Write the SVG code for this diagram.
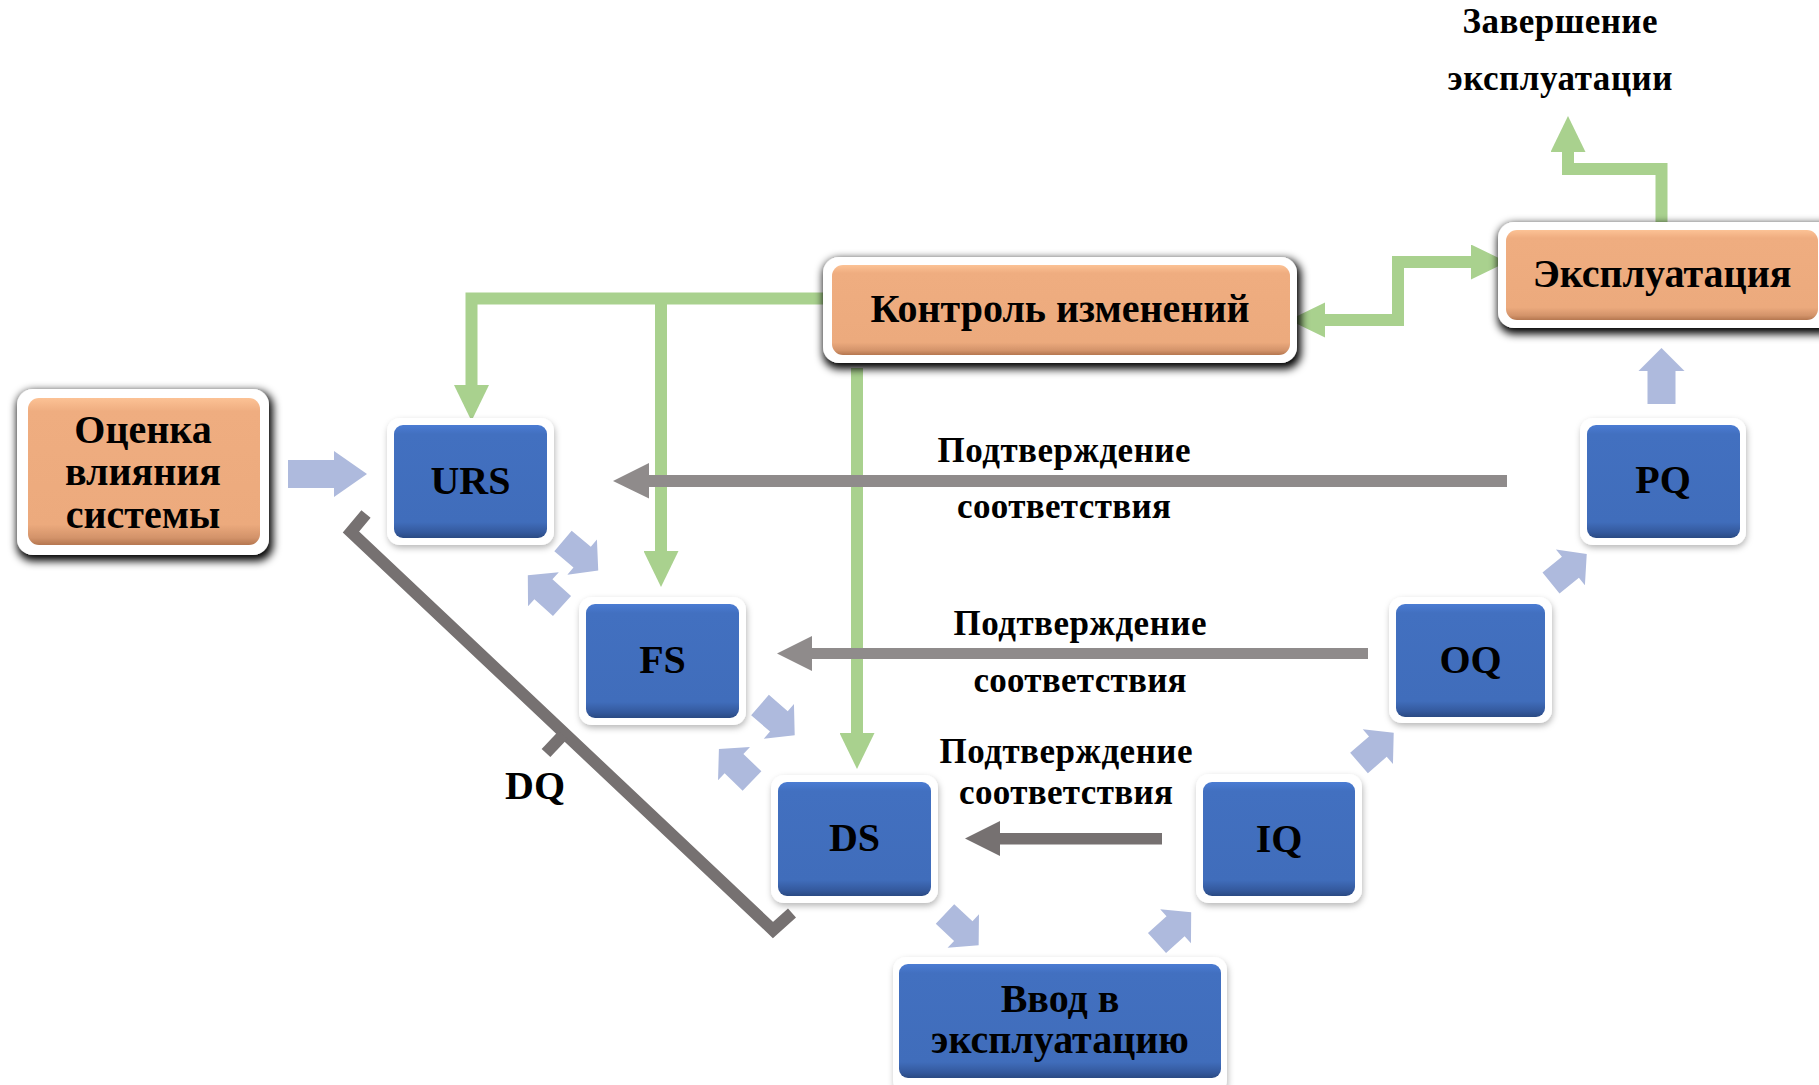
<svg xmlns="http://www.w3.org/2000/svg" width="1819" height="1085" viewBox="0 0 1819 1085">
  <defs>
    <linearGradient id="blueFace" x1="0" y1="0" x2="0" y2="1">
      <stop offset="0" stop-color="#4b7cd3"/>
      <stop offset="0.08" stop-color="#4270c0"/>
      <stop offset="0.86" stop-color="#406dbb"/>
      <stop offset="0.95" stop-color="#34599d"/>
      <stop offset="1" stop-color="#2a4a83"/>
    </linearGradient>
    <linearGradient id="orangeFace" x1="0" y1="0" x2="0" y2="1">
      <stop offset="0" stop-color="#fcc295"/>
      <stop offset="0.09" stop-color="#efad80"/>
      <stop offset="0.86" stop-color="#ecaa7d"/>
      <stop offset="0.95" stop-color="#d3936a"/>
      <stop offset="1" stop-color="#b57750"/>
    </linearGradient>
    <filter id="softShadow" x="-10%" y="-10%" width="120%" height="130%">
      <feDropShadow dx="1" dy="3" stdDeviation="3" flood-color="#000" flood-opacity="0.28"/>
    </filter>
    <filter id="darkHalo" x="-10%" y="-25%" width="120%" height="160%">
      <feMorphology in="SourceAlpha" operator="dilate" radius="2" result="d"/>
      <feGaussianBlur in="d" stdDeviation="4"/>
      <feOffset dx="2" dy="4" result="b"/>
      <feFlood flood-color="#000" flood-opacity="1"/>
      <feComposite in2="b" operator="in"/>
      <feMerge>
        <feMergeNode/>
        <feMergeNode in="SourceGraphic"/>
      </feMerge>
    </filter>
    <!-- block arrow pointing along +x, starting at shaft centre -->
    <path id="blockArrow" d="M0,-13.5 H25 V-23 L46,0 L25,23 V13.5 H0 Z"/>
    <marker id="greenHead" viewBox="0 0 36 35" refX="0" refY="17.5" markerWidth="36" markerHeight="35" markerUnits="userSpaceOnUse" orient="auto">
      <path d="M0,0 L36,17.5 L0,35 Z" fill="#a9d18e"/>
    </marker>
  </defs>
  <style>
    .frame { fill: #ffffff; }
    .blue { fill: url(#blueFace); }
    .orange { fill: url(#orangeFace); }
    .lbl { font-family: "Liberation Serif", "Times New Roman", serif; font-weight: bold; fill: #000; text-anchor: middle; }
    .big { font-size: 40px; }
    .note { font-size: 35px; }
    .green { fill: none; stroke: #a9d18e; stroke-width: 12; }
    .flow { fill: #aebadd; }
    .grayA { fill: #8f8b8b; }
    .grayB { fill: #767171; }
  </style>
  <rect width="1819" height="1085" fill="#ffffff"/>

  <!-- connectors -->
  <g id="connectors">
    <!-- change control branches -->
    <path class="green" d="M830,298.5 H471.5 V385" marker-end="url(#greenHead)"/>
    <path class="green" d="M661,298.5 V551" marker-end="url(#greenHead)"/>
    <path class="green" d="M857,368 V733" marker-end="url(#greenHead)"/>
    <!-- change control <-> operation -->
    <path class="green" d="M1325,320 H1398 V262 H1471" marker-end="url(#greenHead)"/>
    <path d="M1325,302.5 L1289,320 L1325,337.5 Z" fill="#a9d18e"/>
    <!-- operation -> retirement -->
    <path class="green" d="M1661.5,224 V169 H1568 V152" marker-end="url(#greenHead)"/>

    <!-- verification arrows -->
    <rect class="grayA" x="643" y="475" width="864" height="12"/>
    <path class="grayA" d="M649,463 L613,481 L649,498.5 Z"/>
    <rect class="grayA" x="806" y="648" width="562" height="11"/>
    <path class="grayA" d="M812,636 L777,653.5 L812,671 Z"/>
    <rect class="grayB" x="994" y="833" width="168" height="11.5"/>
    <path class="grayB" d="M1000,821 L965,838.5 L1000,856 Z"/>

    <!-- process flow -->
    <path class="flow" d="M288,460 H334 V451 L367,474 L334,497 V488 H288 Z"/>
    <path class="flow" d="M1647.5,404 V371 H1638.5 L1661.5,348 L1684.5,371 H1675.5 V404 Z"/>
    <use href="#blockArrow" class="flow" transform="translate(563,541) rotate(40)"/>
    <use href="#blockArrow" class="flow" transform="translate(562,606) rotate(222)"/>
    <use href="#blockArrow" class="flow" transform="translate(760,705) rotate(41)"/>
    <use href="#blockArrow" class="flow" transform="translate(752,781) rotate(224)"/>
    <use href="#blockArrow" class="flow" transform="translate(945,914) rotate(43)"/>
    <use href="#blockArrow" class="flow" transform="translate(1157,943) rotate(-42)"/>
    <use href="#blockArrow" class="flow" transform="translate(1359,763) rotate(-41)"/>
    <use href="#blockArrow" class="flow" transform="translate(1551,583) rotate(-39)"/>

    <!-- DQ bracket -->
    <path d="M366,514 L351,532 L773,930 L792,913" fill="none" stroke="#767171" stroke-width="12" stroke-linejoin="miter"/>
    <path d="M563,735 L546,753" fill="none" stroke="#767171" stroke-width="12"/>
  </g>

  <!-- nodes -->
  <g id="impact">
    <g filter="url(#darkHalo)">
      <rect class="frame" x="17" y="389" width="252" height="166" rx="16"/>
      <rect class="orange" x="28" y="398" width="232" height="147" rx="11"/>
    </g>
    <g class="lbl big">
      <text x="143" y="443">Оценка</text>
      <text x="143" y="485">влияния</text>
      <text x="143" y="528">системы</text>
    </g>
  </g>

  <g id="change-control">
    <g filter="url(#darkHalo)">
      <rect class="frame" x="823" y="257" width="474" height="106" rx="16"/>
      <rect class="orange" x="832" y="265" width="458" height="90" rx="11"/>
    </g>
    <text class="lbl big" x="1060" y="322">Контроль изменений</text>
  </g>

  <g id="operation">
    <g filter="url(#darkHalo)">
      <rect class="frame" x="1498" y="222" width="340" height="106" rx="16"/>
      <rect class="orange" x="1506" y="230" width="312" height="90" rx="11"/>
    </g>
    <text class="lbl big" x="1662" y="287">Эксплуатация</text>
  </g>

  <g id="retirement" class="lbl note">
    <text x="1560" y="33" textLength="195">Завершение</text>
    <text x="1560" y="90" textLength="225">эксплуатации</text>
  </g>

  <g id="urs">
    <rect class="frame" x="387" y="418" width="167" height="127" rx="13" filter="url(#softShadow)"/>
    <rect class="blue" x="394" y="425" width="153" height="113" rx="9"/>
    <text class="lbl big" x="470.5" y="494">URS</text>
  </g>

  <g id="fs">
    <rect class="frame" x="579" y="597" width="167" height="128" rx="13" filter="url(#softShadow)"/>
    <rect class="blue" x="586" y="604" width="153" height="114" rx="9"/>
    <text class="lbl big" x="662.5" y="673">FS</text>
  </g>

  <g id="ds">
    <rect class="frame" x="771" y="775" width="167" height="128" rx="13" filter="url(#softShadow)"/>
    <rect class="blue" x="778" y="782" width="153" height="114" rx="9"/>
    <text class="lbl big" x="854.5" y="851">DS</text>
  </g>

  <g id="commissioning">
    <rect class="frame" x="893" y="957" width="334" height="136" rx="13" filter="url(#softShadow)"/>
    <rect class="blue" x="899" y="964" width="322" height="114" rx="9"/>
    <text class="lbl big" x="1060" y="1012">Ввод в</text>
    <text class="lbl big" x="1060" y="1053">эксплуатацию</text>
  </g>

  <g id="iq">
    <rect class="frame" x="1196" y="774" width="166" height="129" rx="13" filter="url(#softShadow)"/>
    <rect class="blue" x="1203" y="782" width="152" height="114" rx="9"/>
    <text class="lbl big" x="1279" y="852">IQ</text>
  </g>

  <g id="oq">
    <rect class="frame" x="1389" y="597" width="163" height="126" rx="13" filter="url(#softShadow)"/>
    <rect class="blue" x="1396" y="604" width="149" height="113" rx="9"/>
    <text class="lbl big" x="1470.5" y="673">OQ</text>
  </g>

  <g id="pq">
    <rect class="frame" x="1580" y="418" width="166" height="127" rx="13" filter="url(#softShadow)"/>
    <rect class="blue" x="1587" y="425" width="153" height="113" rx="9"/>
    <text class="lbl big" x="1663" y="493">PQ</text>
  </g>

  <!-- labels -->
  <g id="labels" class="lbl note">
    <text x="1064" y="462" textLength="253">Подтверждение</text>
    <text x="1064" y="518" textLength="214">соответствия</text>
    <text x="1080" y="635" textLength="253">Подтверждение</text>
    <text x="1080" y="692" textLength="213">соответствия</text>
    <text x="1066" y="763" textLength="253">Подтверждение</text>
    <text x="1066" y="804" textLength="214">соответствия</text>
    <text class="big" x="535" y="799">DQ</text>
  </g>
</svg>
